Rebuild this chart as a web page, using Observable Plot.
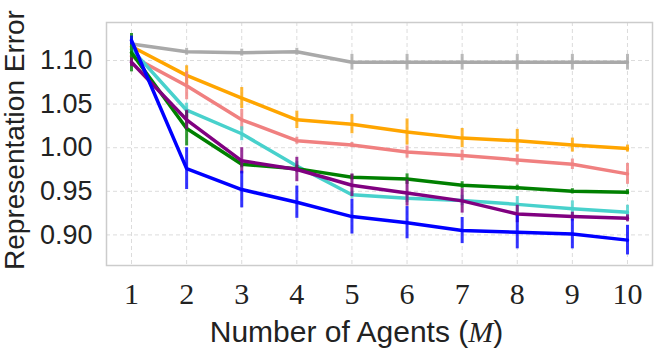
<!DOCTYPE html>
<html><head><meta charset="utf-8">
<script src="https://cdn.jsdelivr.net/npm/d3@7"></script>
<script src="https://cdn.jsdelivr.net/npm/@observablehq/plot@0.6"></script>
<style>body{margin:0;background:#fff}#chart svg{display:block}</style>
</head><body><div id="chart"></div>
<script>
// ---- data ----
const agents = [1, 2, 3, 4, 5, 6, 7, 8, 9, 10];
const xTicks = [1, 2, 3, 4, 5, 6, 7, 8, 9, 10];
const yTicks = [0.90, 0.95, 1.00, 1.05, 1.10];

const grayMean      = [1.119, 1.110, 1.109, 1.110, 1.098, 1.098, 1.098, 1.098, 1.098, 1.098];
const grayErr       = [0.003, 0.004, 0.004, 0.004, 0.009, 0.009, 0.009, 0.009, 0.009, 0.009];
const orangeMean    = [1.116, 1.083, 1.057, 1.032, 1.027, 1.018, 1.011, 1.008, 1.003, 0.999];
const orangeErr     = [0.005, 0.011, 0.012, 0.010, 0.011, 0.015, 0.011, 0.013, 0.008, 0.004];
const salmonMean    = [1.105, 1.071, 1.032, 1.008, 1.003, 0.995, 0.991, 0.986, 0.981, 0.970];
const salmonErr     = [0.005, 0.016, 0.012, 0.004, 0.003, 0.007, 0.006, 0.006, 0.006, 0.012];
const turquoiseMean = [1.113, 1.043, 1.016, 0.979, 0.946, 0.942, 0.9395, 0.935, 0.930, 0.926];
const turquoiseErr  = [0.005, 0.008, 0.008, 0.005, 0.004, 0.005, 0.006, 0.009, 0.009, 0.008];
const greenMean     = [1.109, 1.022, 0.981, 0.976, 0.966, 0.964, 0.957, 0.954, 0.950, 0.949];
const greenErr      = [0.022, 0.020, 0.004, 0.004, 0.003, 0.006, 0.004, 0.003, 0.003, 0.003];
const purpleMean    = [1.098, 1.032, 0.985, 0.975, 0.957, 0.948, 0.939, 0.924, 0.921, 0.919];
const purpleErr     = [0.005, 0.011, 0.015, 0.014, 0.013, 0.015, 0.014, 0.010, 0.005, 0.004];
const blueMean      = [1.123, 0.976, 0.952, 0.9375, 0.921, 0.914, 0.905, 0.903, 0.901, 0.894];
const blueErr       = [0.005, 0.024, 0.021, 0.0185, 0.020, 0.0185, 0.015, 0.019, 0.017, 0.017];

const seriesNames = ["gray", "orange", "salmon", "turquoise", "green", "purple", "blue"];
const seriesMeans = [grayMean, orangeMean, salmonMean, turquoiseMean, greenMean, purpleMean, blueMean];
const seriesErrs  = [grayErr, orangeErr, salmonErr, turquoiseErr, greenErr, purpleErr, blueErr];

// ---- styles ----
const seriesColors = ["#a9a9a9", "#ffa500", "#f08080", "#48d1cc", "#008000", "#800080", "#0000ff"];

const rows = seriesNames.flatMap((name, s) => agents.map((m, i) => ({
  series: name, m,
  mean: seriesMeans[s][i],
  lo: seriesMeans[s][i] - seriesErrs[s][i],
  hi: seriesMeans[s][i] + seriesErrs[s][i]
})));

const marks = [
  Plot.gridX(xTicks, {stroke: "#dcdcdc", strokeOpacity: 1, strokeDasharray: "4,3", strokeWidth: 1}),
  Plot.gridY(yTicks, {stroke: "#dcdcdc", strokeOpacity: 1, strokeDasharray: "4,3", strokeWidth: 1}),
  Plot.frame({stroke: "#cccccc", strokeWidth: 1.5})
];
seriesNames.forEach((name, s) => {
  const d = rows.filter(r => r.series === name);
  marks.push(Plot.ruleX(d, {x: "m", y1: "lo", y2: "hi", stroke: seriesColors[s], strokeWidth: 3, strokeOpacity: 0.8, strokeLinecap: "butt"}));
  marks.push(Plot.line(d, {x: "m", y: "mean", stroke: seriesColors[s], strokeWidth: 3.5}));
});
marks.push(Plot.axisX(xTicks, {tickSize: 0, tickPadding: 17, fontSize: 30, fontFamily: "Liberation Serif", fill: "#222", label: null}));
marks.push(Plot.axisY(yTicks, {tickSize: 0, tickPadding: 14, fontSize: 27, fontFamily: "Liberation Sans", fill: "#222", tickFormat: d3.format(".2f"), label: null}));

const chart = Plot.plot({
  width: 658, height: 363,
  marginLeft: 106, marginRight: 6, marginTop: 22, marginBottom: 98,
  x: {domain: [0.546, 10.454]},
  y: {domain: [0.8649, 1.1436]},
  style: {background: "#fff"},
  marks
});

const svg = d3.select(chart);
svg.append("text")
  .attr("transform", "translate(24,140) rotate(-90)")
  .attr("text-anchor", "middle")
  .attr("font-family", "Liberation Sans")
  .attr("font-size", 28)
  .attr("fill", "#222")
  .text("Representation Error");
const xl = svg.append("text")
  .attr("x", 356.5).attr("y", 342)
  .attr("text-anchor", "middle")
  .attr("font-family", "Liberation Sans")
  .attr("font-size", 30)
  .attr("fill", "#222");
xl.append("tspan").text("Number of Agents (");
xl.append("tspan").attr("font-family", "Liberation Serif").attr("font-style", "italic").text("M");
xl.append("tspan").text(")");

document.getElementById("chart").appendChild(chart);
</script>
</body></html>
